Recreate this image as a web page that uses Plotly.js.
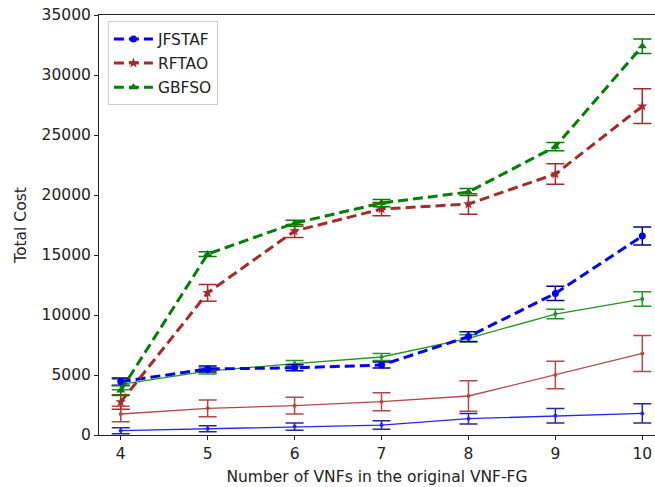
<!DOCTYPE html>
<html>
<head>
<meta charset="utf-8">
<script src="https://cdn.plot.ly/plotly-3.0.1.min.js"></script>
<style>html,body{margin:0;padding:0;background:#fff;}#chart{width:655px;height:487px;}</style>
</head>
<body>
<div id="chart"></div>
<script>
const xVals = [4, 5, 6, 7, 8, 9, 10];

// Dashed series (legend)
const jfstaf = [4450, 5500, 5600, 5830, 8200, 11800, 16580];
const jfstafErr = [300, 250, 250, 250, 400, 600, 750];
const rftao = [2750, 11850, 17000, 18830, 19250, 21750, 27400];
const rftaoErr = [600, 700, 550, 550, 850, 850, 1450];
const gbfso = [3700, 15080, 17650, 19330, 20250, 24030, 32400];
const gbfsoErr = [400, 200, 250, 300, 300, 350, 600];

// Thin solid series (no legend)
const jfstafB = [360, 530, 700, 830, 1360, 1600, 1800];
const jfstafBErr = [250, 250, 300, 360, 440, 600, 800];
const rftaoB = [1750, 2220, 2440, 2780, 3250, 5000, 6800];
const rftaoBErr = [650, 700, 700, 750, 1280, 1150, 1500];
const gbfsoB = [4220, 5330, 5950, 6500, 8060, 10080, 11330];
const gbfsoBErr = [450, 250, 250, 300, 300, 400, 600];

const names = ['JFSTAF', 'RFTAO', 'GBFSO'];

const blue = '#0000ff', blueDark = '#00008b';
const brown = '#a52a2a';
const green = '#008000';

function dashed(name, y, err, color, ecolor, symbol, msize) {
  return {
    x: xVals, y: y, name: name, legendgroup: name, type: 'scatter', mode: 'lines+markers',
    line: {color: color, width: 3, dash: '10px,5px'},
    marker: {color: color, symbol: symbol, size: msize},
    error_y: {type: 'data', array: err, visible: true, color: ecolor, thickness: 1.5, width: 9}
  };
}
function solid(y, err, color, ecolor) {
  return {
    x: xVals, y: y, type: 'scatter', mode: 'lines+markers', showlegend: false,
    line: {color: color, width: 1.3}, opacity: 0.85,
    marker: {color: color, size: 4},
    error_y: {type: 'data', array: err, visible: true, color: ecolor, thickness: 1.5, width: 9}
  };
}

const data = [
  solid(jfstafB, jfstafBErr, blue, blueDark),
  solid(rftaoB, rftaoBErr, brown, brown),
  solid(gbfsoB, gbfsoBErr, green, green),
  dashed(names[0], jfstaf, jfstafErr, blue, blueDark, 'circle', 7),
  dashed(names[1], rftao, rftaoErr, brown, brown, 'star', 8),
  dashed(names[2], gbfso, gbfsoErr, green, green, 'triangle-up', 8)
];

const layout = {
  width: 655, height: 487,
  margin: {l: 99, r: 0, t: 15, b: 52},
  paper_bgcolor: '#fff', plot_bgcolor: '#fff',
  font: {family: 'DejaVu Sans', size: 15.5, color: '#222'},
  showlegend: true,
  legend: {x: 0.016, y: 0.985, xanchor: 'left', yanchor: 'top',
           bgcolor: 'rgba(255,255,255,0.8)', bordercolor: '#ccc', borderwidth: 1,
           itemwidth: 39, tracegroupgap: 1,
           font: {family: 'DejaVu Sans', size: 15.5, color: '#222'}, traceorder: 'grouped'},
  xaxis: {
    range: [3.75, 10.146], tickvals: xVals, ticktext: xVals.map(String),
    showgrid: false, zeroline: false, showline: true, linecolor: '#222', linewidth: 1,
    mirror: true, ticks: 'outside', ticklen: 4, tickcolor: '#222',
    title: {text: 'Number of VNFs in the original VNF-FG', font: {size: 15.5}, standoff: 9}
  },
  yaxis: {
    range: [0, 35000], dtick: 5000, tickformat: 'd',
    showgrid: false, zeroline: false, showline: true, linecolor: '#222', linewidth: 1,
    ticks: 'outside', ticklen: 4, tickcolor: '#222',
    title: {text: 'Total Cost', font: {size: 15.5}, standoff: 11}
  }
};

Plotly.newPlot('chart', data, layout, {displayModeBar: false, staticPlot: true});
</script>
</body>
</html>
